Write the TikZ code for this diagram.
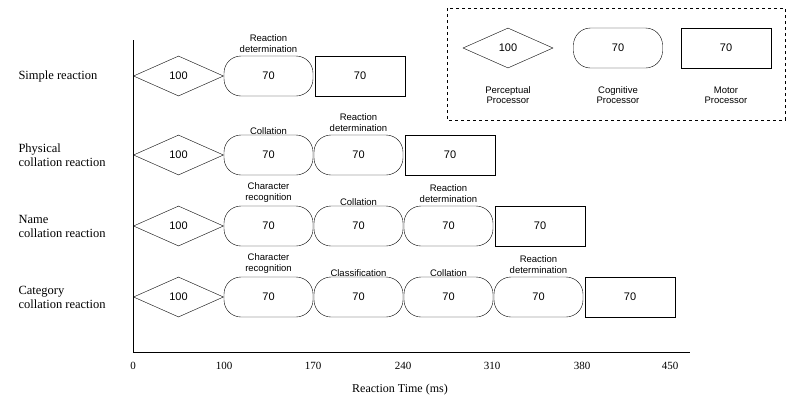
\documentclass[tikz,border=0pt]{standalone}
\usepackage{fontspec}
\setmainfont{Liberation Serif}
\newfontfamily\boxfont{Liberation Sans}
\usetikzlibrary{shapes.geometric}
\begin{document}
\begin{tikzpicture}[x=1pt,y=-1pt,
 per/.style={diamond,draw,aspect=2.2,minimum width=90pt,minimum height=40pt,inner sep=0pt,font=\boxfont\fontsize{11}{12}\selectfont},
 cog/.style={draw,rounded corners=17pt,minimum width=89pt,minimum height=40pt,inner sep=0pt,font=\boxfont\fontsize{11}{12}\selectfont},
 mot/.style={draw,minimum width=90pt,minimum height=40pt,inner sep=0pt,font=\boxfont\fontsize{11}{12}\selectfont},
 lab/.style={font=\boxfont\fontsize{9.5}{10.5}\selectfont,align=center,anchor=south},
 row/.style={font=\fontsize{12.5}{14}\selectfont,align=left,anchor=west},
 tick/.style={font=\fontsize{11}{12}\selectfont}]
\useasboundingbox (0,0) rectangle (800,410);
% axes
\coordinate (o) at (133,352); \coordinate (yt) at (133,40); \coordinate (xe) at (690,352);
\draw (yt) -- (o) -- (xe);
\foreach \x/\t in {133/0,224/100,313/170,403/240,492/310,582/380,670/450}
  \node[tick] (t\t) at (\x,366) {\t};
\node[font=\fontsize{12}{13}\selectfont] (xl) at (400,390) {Reaction Time (ms)};
% legend
\draw[dashed] (447,8) rectangle (785,120);
\node[per] (lp) at (508,48) {100};
\node[cog] (lc) at (618,48) {70};
\node[mot] (lm) at (726,48) {70};
\node[lab,anchor=north] (lpl) at (508,83) {Perceptual\\Processor};
\node[lab,anchor=north] (lcl) at (618,83) {Cognitive\\Processor};
\node[lab,anchor=north] (lml) at (726,83) {Motor\\Processor};
% rows
\node[row] (r1) at (15,76) {Simple reaction};
\node[row] (r2) at (15,155) {Physical\\collation reaction};
\node[row] (r3) at (15,226) {Name\\collation reaction};
\node[row] (r4) at (15,297) {Category\\collation reaction};
% row1
\node[per] (a1) at (178.5,76) {100};
\node[cog] (a2) at (268.5,76) {70};
\node[mot] (a3) at (360,76) {70};
\node[lab] at (a2.north) {Reaction\\determination};
% row2
\node[per] (b1) at (178.5,155) {100};
\node[cog] (b2) at (268.5,155) {70};
\node[cog] (b3) at (358.5,155) {70};
\node[mot] (b4) at (450,155) {70};
\node[lab] at ([yshift=-3pt]b2.north) {Collation};
\node[lab] at (b3.north) {Reaction\\determination};
% row3
\node[per] (c1) at (178.5,226) {100};
\node[cog] (c2) at (268.5,226) {70};
\node[cog] (c3) at (358.5,226) {70};
\node[cog] (c4) at (448.5,226) {70};
\node[mot] (c5) at (540,226) {70};
\node[lab] at (c2.north) {Character\\recognition};
\node[lab] at ([yshift=-3pt]c3.north) {Collation};
\node[lab] at (c4.north) {Reaction\\determination};
% row4
\node[per] (d1) at (178.5,297) {100};
\node[cog] (d2) at (268.5,297) {70};
\node[cog] (d3) at (358.5,297) {70};
\node[cog] (d4) at (448.5,297) {70};
\node[cog] (d5) at (538.5,297) {70};
\node[mot] (d6) at (630,297) {70};
\node[lab] at (d2.north) {Character\\recognition};
\node[lab] at ([yshift=-3pt]d3.north) {Classification};
\node[lab] at ([yshift=-3pt]d4.north) {Collation};
\node[lab] at (d5.north) {Reaction\\determination};
\end{tikzpicture}
\end{document}
